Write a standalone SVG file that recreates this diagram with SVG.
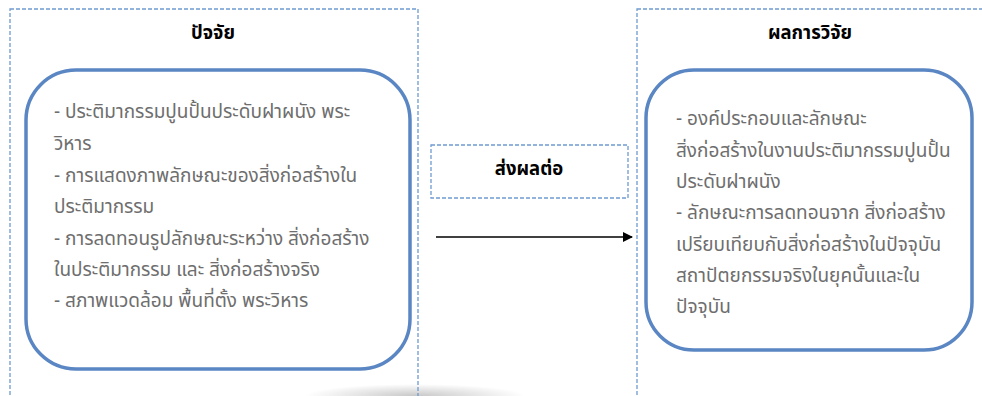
<svg xmlns="http://www.w3.org/2000/svg" width="982" height="396" viewBox="0 0 982 396">
<defs>
<style>
.frame{fill:none;stroke:#6f9bd0;stroke-width:1.3;stroke-dasharray:4 2}
.card{fill:#fff;stroke:#5a86c3;stroke-width:3.5}
.title{font-family:"Noto Sans Thai","Noto Sans",sans-serif;font-size:18.5px;font-weight:bold;fill:#000;text-anchor:middle}
.body{font-family:"Noto Sans Thai","Noto Sans",sans-serif;font-size:19px;fill:#6e6e6e}
</style>
<marker id="arr" markerWidth="10" markerHeight="10" refX="9" refY="5" orient="auto" markerUnits="userSpaceOnUse">
<path d="M0,0 L10,5 L0,10 z" fill="#000"/>
</marker>
<radialGradient id="sh" cx="0.5" cy="0.5" r="0.5">
<stop offset="0" stop-color="#c8c8c8"/>
<stop offset="1" stop-color="#c8c8c8" stop-opacity="0"/>
</radialGradient>
</defs>
<rect width="982" height="396" fill="#fff"/>
<ellipse cx="415" cy="396" rx="110" ry="12" fill="url(#sh)"/>
<g id="factors">
<rect class="frame" x="10" y="9" width="408" height="400"/>
<text class="title" x="213" y="39">ปัจจัย</text>
<rect class="card" x="26" y="70" width="384" height="299" rx="50" ry="50"/>
<text class="body">
<tspan x="54" y="118">- ประติมากรรมปูนปั้นประดับฝาผนัง พระ</tspan>
<tspan x="54" y="150">วิหาร</tspan>
<tspan x="54" y="182">- การแสดงภาพลักษณะของสิ่งก่อสร้างใน</tspan>
<tspan x="54" y="213">ประติมากรรม</tspan>
<tspan x="54" y="245">- การลดทอนรูปลักษณะระหว่าง สิ่งก่อสร้าง</tspan>
<tspan x="54" y="276">ในประติมากรรม และ สิ่งก่อสร้างจริง</tspan>
<tspan x="54" y="307">- สภาพแวดล้อม พื้นที่ตั้ง พระวิหาร</tspan>
</text>
</g>
<g id="effect">
<rect class="frame" x="431" y="145" width="197" height="53"/>
<text class="title" x="529" y="175">ส่งผลต่อ</text>
</g>
<g id="results">
<rect class="frame" x="637" y="9" width="360" height="400"/>
<text class="title" x="810" y="39">ผลการวิจัย</text>
<rect class="card" x="646" y="70" width="326" height="280" rx="48" ry="48"/>
<text class="body">
<tspan x="676" y="125">- องค์ประกอบและลักษณะ</tspan>
<tspan x="676" y="157">สิ่งก่อสร้างในงานประติมากรรมปูนปั้น</tspan>
<tspan x="676" y="188">ประดับฝาผนัง</tspan>
<tspan x="676" y="219">- ลักษณะการลดทอนจาก สิ่งก่อสร้าง</tspan>
<tspan x="676" y="251">เปรียบเทียบกับสิ่งก่อสร้างในปัจจุบัน</tspan>
<tspan x="676" y="282">สถาปัตยกรรมจริงในยุคนั้นและใน</tspan>
<tspan x="676" y="313">ปัจจุบัน</tspan>
</text>
</g>
<g id="connectors">
<line x1="436" y1="237" x2="632" y2="237" stroke="#000" stroke-width="1.5" marker-end="url(#arr)"/>
</g>
</svg>
